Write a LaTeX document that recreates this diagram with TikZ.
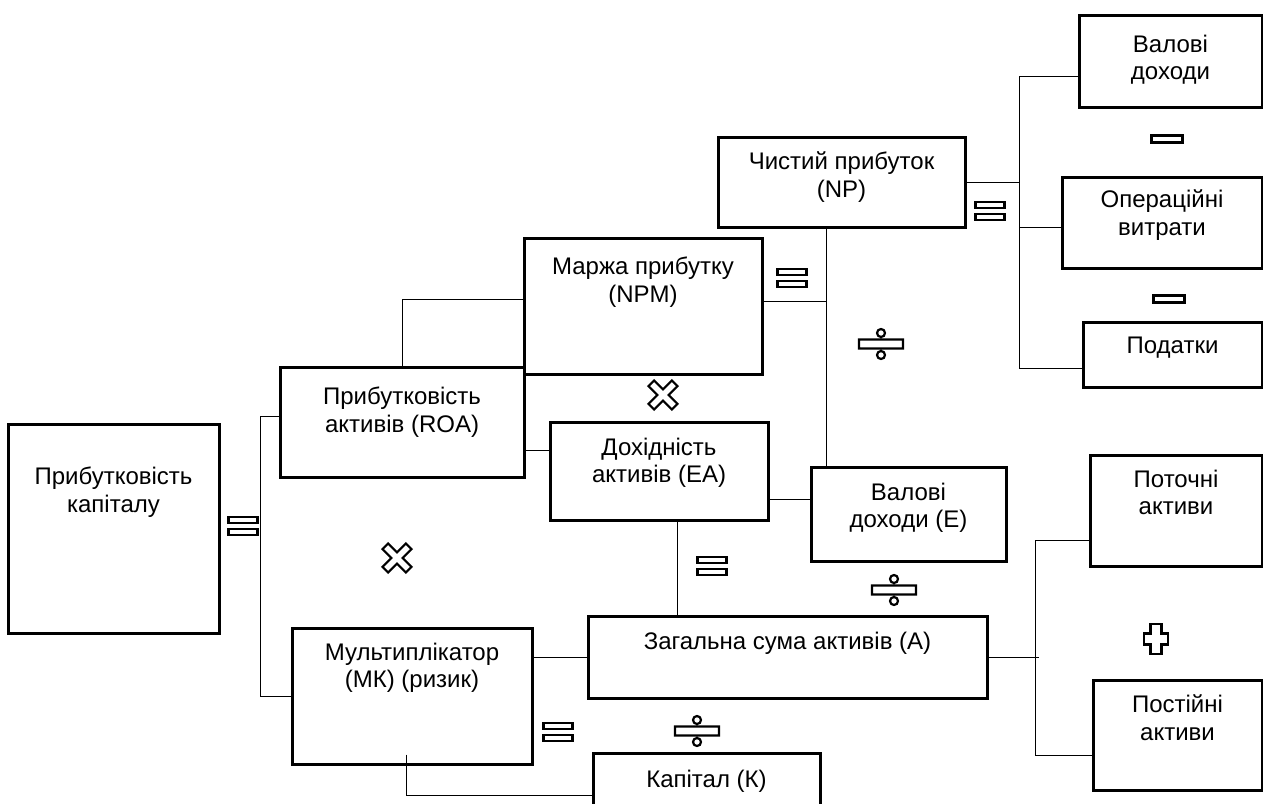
\documentclass[tikz,border=0pt]{standalone}
\usepackage{fontspec}
\setmainfont{Liberation Sans}
\usetikzlibrary{positioning, calc}

\tikzset{
    box/.style={draw, line width=3pt, inner sep=0pt},
    boxtext/.style={anchor=north, align=center, font=\fontsize{24}{27.5}\selectfont},
    conn/.style={line width=0.9pt},
    sign/.style={line width=2.2pt},
    eqsign/.pic={\draw[sign] (-14.5,-9) rectangle (14.5,-3) (-14.5,3) rectangle (14.5,9);},
    minsign/.pic={\draw[sign] (-15.5,-3.5) rectangle (15.5,3.5);},
    divsign/.pic={\draw[sign] (-22,-4.5) rectangle (22,4.5) (0,-11) circle (4pt) (0,11) circle (4pt);},
    mulsign/.pic={\draw[sign, rotate=45] (-4,-16.5) -- (4,-16.5) -- (4,-4) -- (16.5,-4) -- (16.5,4)
        -- (4,4) -- (4,16.5) -- (-4,16.5) -- (-4,4) -- (-16.5,4) -- (-16.5,-4) -- (-4,-4) -- cycle;},
    plussign/.pic={\draw[sign] (-5.5,-15) -- (5.5,-15) -- (5.5,-5.5) -- (12,-5.5) -- (12,5.5) -- (5.5,5.5) -- (5.5,15)
        -- (-5.5,15) -- (-5.5,5.5) -- (-12,5.5) -- (-12,-5.5) -- (-5.5,-5.5) -- cycle;}
}

\begin{document}
\begin{tikzpicture}[x=1pt, y=-1pt]
    \useasboundingbox (0,0) rectangle (1263,803);

    % Boxes
    \node[box, minimum width=211, minimum height=209,
        label={[boxtext, yshift=-41pt]north:Прибутковість\\капіталу}] (roe) at (113.5,528.5) {};
    \node[box, minimum width=244, minimum height=110,
        label={[boxtext, yshift=-18pt]north:Прибутковість\\активів (ROA)}] (roa) at (402,422) {};
    \node[box, minimum width=238, minimum height=136,
        label={[boxtext, yshift=-17pt]north:Маржа прибутку\\(NPM)}] (npm) at (643,306) {};
    \node[box, minimum width=247, minimum height=90,
        label={[boxtext, yshift=-13pt]north:Чистий прибуток\\(NP)}] (np) at (841.5,182) {};
    \node[box, minimum width=218, minimum height=98,
        label={[boxtext, yshift=-14pt]north:Дохідність\\активів (EA)}] (ea) at (659,471) {};
    \node[box, minimum width=195, minimum height=94,
        label={[boxtext, yshift=-14pt]north:Валові\\доходи (Е)}] (e) at (908.5,514) {};
    \node[box, minimum width=399, minimum height=82,
        label={[boxtext, yshift=-14pt]north:Загальна сума активів (А)}] (a) at (787.5,657) {};
    \node[box, minimum width=240, minimum height=136,
        label={[boxtext, yshift=-13pt]north:Мультиплікатор\\(МК) (ризик)}] (mk) at (412,696) {};
    \node[box, minimum width=227, minimum height=77,
        label={[boxtext, yshift=-15pt]north:Капітал (К)}] (k) at (706.5,791.5) {};
    \node[box, minimum width=183, minimum height=92,
        label={[boxtext, yshift=-18pt]north:Валові\\доходи}] (gi) at (1170.5,61) {};
    \node[box, minimum width=200, minimum height=91,
        label={[boxtext, yshift=-11pt]north:Операційні\\витрати}] (opex) at (1162,222.5) {};
    \node[box, minimum width=179, minimum height=65,
        label={[boxtext, yshift=-13pt]north:Податки}] (tax) at (1172.5,354.5) {};
    \node[box, minimum width=172, minimum height=111,
        label={[boxtext, yshift=-13pt]north:Поточні\\активи}] (ca) at (1176,510.5) {};
    \node[box, minimum width=169, minimum height=110,
        label={[boxtext, yshift=-13pt]north:Постійні\\активи}] (fa) at (1177.5,735) {};

    % Bracket points
    \coordinate (npv) at ([xshift=-15.5pt]np.south);
    \coordinate (npbr) at ([xshift=-58pt, yshift=-15pt]gi.west);

    % Connectors
    \draw[conn] ([yshift=6pt]roa.west) -- ++(-18,0) |- (mk.west);
    \draw[conn] (roa.north) |- ([yshift=7pt]npm.west);
    \draw[conn] ([yshift=21pt]ea.west) -- ([yshift=21pt]ea.west -| roa.east);
    \draw[conn] (npv) -- (npv |- e.north);
    \draw[conn] ([yshift=5pt]npm.east) -- ([yshift=5pt]npm.east -| npv);
    \draw[conn] ([yshift=15pt]e.west) -- ([yshift=15pt]e.west -| ea.east);
    \draw[conn] ([xshift=18pt]ea.south) -- ([xshift=18pt]ea.south |- a.north);
    \draw[conn] (a.west) -- (a.west -| mk.east);
    \draw[conn] ([xshift=-6pt, yshift=11pt]mk.south) |- ([yshift=-3.5pt]k.west);
    \draw[conn] ([yshift=-29.5pt]ca.west) -- ++(-53,0) |- ([yshift=-20pt]fa.west);
    \draw[conn] (a.east) -- ++(50,0);
    \draw[conn] (npbr) -- (gi.west |- npbr);
    \draw[conn] (npbr) |- ([yshift=-13.5pt]tax.west);
    \draw[conn] (np.east) -- (np.east -| npbr);
    \draw[conn] ([yshift=-4.5pt]opex.west) -- ([yshift=-4.5pt]opex.west -| npbr);

    % Signs
    \pic at (990,211) {eqsign};
    \pic at (792,278) {eqsign};
    \pic at (243,526) {eqsign};
    \pic at (712,566) {eqsign};
    \pic at (558,732) {eqsign};
    \pic at (1167,139) {minsign};
    \pic at (1169,299) {minsign};
    \pic at (881,344) {divsign};
    \pic at (894,590) {divsign};
    \pic at (697,731) {divsign};
    \pic at (663,395) {mulsign};
    \pic at (397,558) {mulsign};
    \pic at (1156,639) {plussign};

\end{tikzpicture}
\end{document}
